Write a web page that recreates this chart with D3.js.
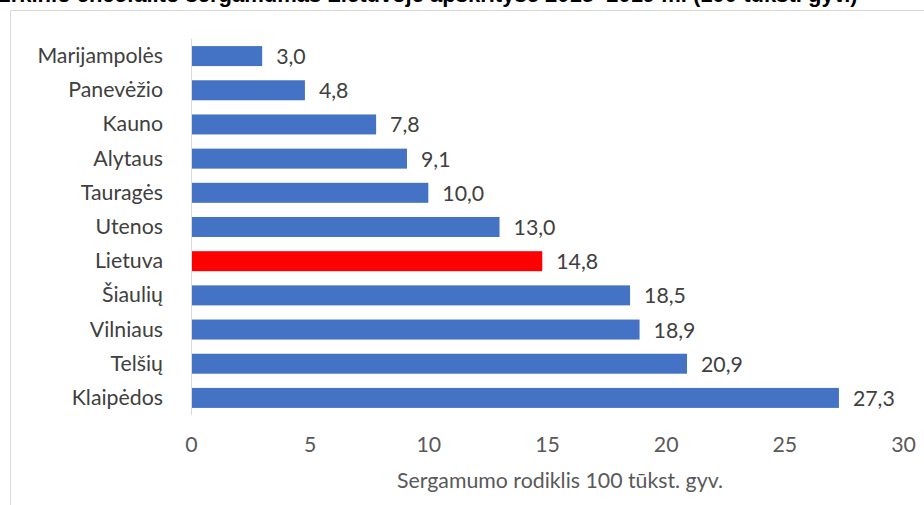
<!DOCTYPE html>
<html><head><meta charset="utf-8">
<script src="https://cdn.jsdelivr.net/npm/d3@7"></script>
<style>html,body{margin:0;padding:0;background:#fff;overflow:hidden}</style>
</head><body>
<svg id="c" width="924" height="505"></svg>
<script>
const titleText = "Erkinio encefalito sergamumas Lietuvoje apskrityse 2015–2019 m. (100 tūkst. gyv.)";
const categories = ["Marijampolės","Panevėžio","Kauno","Alytaus","Tauragės","Utenos","Lietuva","Šiaulių","Vilniaus","Telšių","Klaipėdos"];
const values = [3.0,4.8,7.8,9.1,10.0,13.0,14.8,18.5,18.9,20.9,27.3];
const highlight = ["Lietuva"];
const xTicks = [0,5,10,15,20,25,30];
const xTitle = "Sergamumo rodiklis 100 tūkst. gyv.";

const svg = d3.select("#c");
const font = "Lato, 'Open Sans', sans-serif";
const fs = 21.3;
// chart border
svg.append("rect").attr("x",10.5).attr("y",10.5).attr("width",940).attr("height",520)
  .attr("fill","none").attr("stroke","#d9d9d9");
// title (cropped at top, as in the reference)
svg.append("text").attr("x",-4).attr("y",1.5).attr("font-family","'Liberation Sans', Arial, sans-serif")
  .attr("font-weight","bold").attr("font-size",22).attr("fill","#000").text(titleText);

const x = d3.scaleLinear().domain([0,30]).range([191,903]);
const y = d3.scaleBand().domain(categories).range([39,415]).paddingInner(0.415).paddingOuter(0.2075);

// axis line
svg.append("line").attr("x1",191.5).attr("x2",191.5).attr("y1",39).attr("y2",415).attr("stroke","#d9d9d9");

svg.selectAll("rect.bar").data(categories).enter().append("rect")
  .attr("class","bar")
  .attr("x",x(0)+1).attr("y",d=>y(d))
  .attr("width",(d,i)=>x(values[i])-x(0)-1).attr("height",y.bandwidth())
  .attr("fill",d=>highlight.includes(d)?"#FF0000":"#4472C4");

svg.selectAll("text.val").data(categories).enter().append("text")
  .attr("x",(d,i)=>x(values[i])+14).attr("y",d=>y(d)+y.bandwidth()/2+8)
  .attr("font-family",font).attr("font-size",fs).attr("fill","#404040")
  .text((d,i)=>d3.format(".1f")(values[i]).replace(".",","));

svg.selectAll("text.cat").data(categories).enter().append("text")
  .attr("x",163).attr("y",d=>y(d)+y.bandwidth()/2+7)
  .attr("text-anchor","end").attr("font-family",font).attr("font-size",fs).attr("fill","#404040")
  .text(d=>d);

const ax = svg.append("g").attr("transform","translate(0,415)")
  .call(d3.axisBottom(x).tickValues(xTicks).tickSize(0).tickPadding(22).tickFormat(d3.format("d")));
ax.select(".domain").remove();
ax.selectAll("text").attr("font-family",font).attr("font-size",fs).attr("fill","#595959");

svg.append("text").attr("x",560).attr("y",488).attr("text-anchor","middle")
  .attr("font-family",font).attr("font-size",fs).attr("fill","#595959").text(xTitle);
</script>
</body></html>
